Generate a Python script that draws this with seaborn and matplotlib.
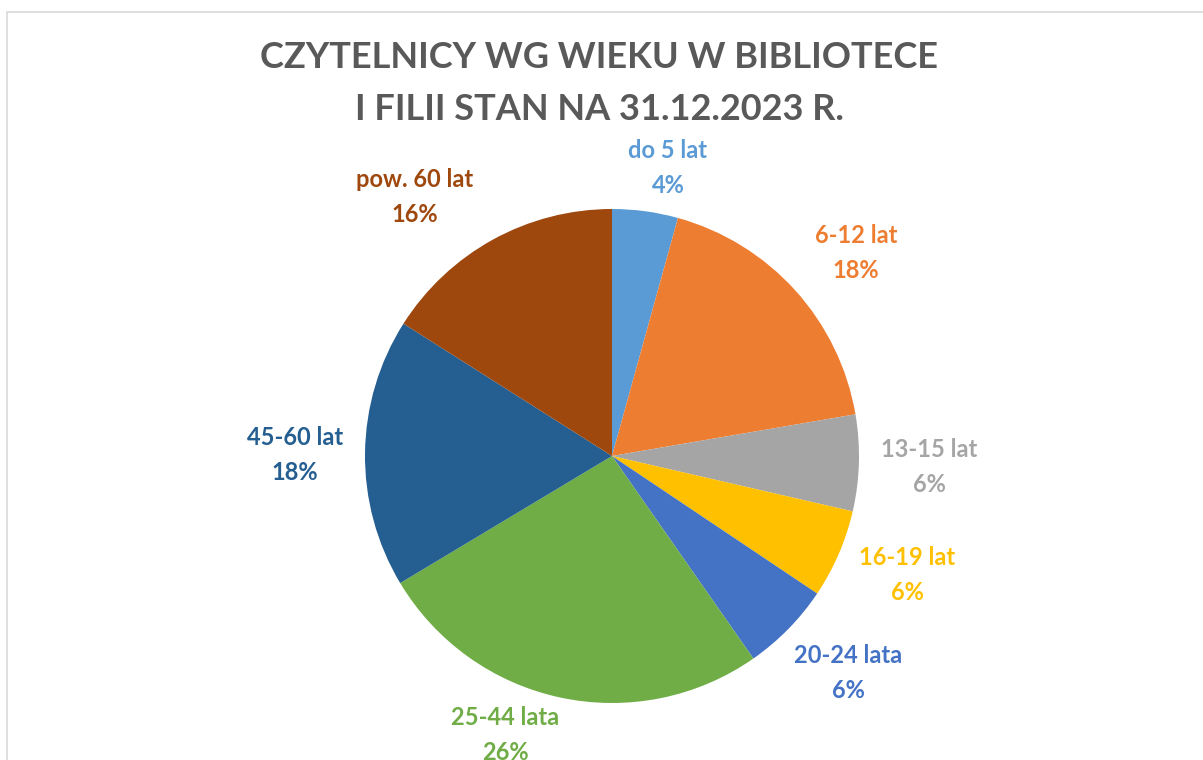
import matplotlib
matplotlib.use("Agg")
import matplotlib.pyplot as plt
import seaborn as sns

# age groups of library readers, share in %
groups = ['do 5 lat', '6-12 lat', '13-15 lat', '16-19 lat', '20-24 lata', '25-44 lata', '45-60 lat', 'pow. 60 lat']
shares = [4.3, 18.0, 6.3, 5.8, 5.9, 26.1, 17.6, 16.0]
colors = ['#5B9BD5', '#ED7D31', '#A5A5A5', '#FFC000', '#4472C4', '#70AD47', '#255E91', '#9E480E']

title_lines = ['CZYTELNICY WG WIEKU W BIBLIOTECE', 'I FILII STAN NA 31.12.2023 R.']

# label centres in pixels (layout only)
label_pos = [(668, 168), (856, 253), (929, 467), (907, 575), (848, 673), (505, 735), (295, 455), (415, 197)]

sns.set_theme(style='white')
plt.rcParams['font.family'] = ['Lato', 'DejaVu Sans']

W, H = 1203, 760
fig = plt.figure(figsize=(W / 100, H / 100), dpi=100)

# light chart frame
frame = plt.Rectangle((7 / W, -0.1), 1.2, (H - 12) / H + 0.1, transform=fig.transFigure,
                      fill=False, edgecolor='#d9d9d9', linewidth=1.2)
fig.patches.append(frame)

cx, cy, r = 612, 456, 247
ax = fig.add_axes([(cx - r) / W, (H - cy - r) / H, 2 * r / W, 2 * r / H])
ax.pie(shares, colors=colors, startangle=90, counterclock=False,
       wedgeprops=dict(linewidth=0))
ax.set_xlim(-1, 1)
ax.set_ylim(-1, 1)
ax.set_aspect('auto')
ax.axis('off')

total = sum(shares)
for g, s, c, (px, py) in zip(groups, shares, colors, label_pos):
    fig.text(px / W, 1 - py / H, f'{g}\n{round(s / total * 100)}%', color=c,
             fontsize=17, fontweight='bold', ha='center', va='center', linespacing=1.6)

for line, py in zip(title_lines, [57, 110]):
    fig.text(599 / W, 1 - py / H, line, color='#595959', fontsize=26, fontweight='bold',
             ha='center', va='center')

fig.savefig('out.png', dpi=100)
